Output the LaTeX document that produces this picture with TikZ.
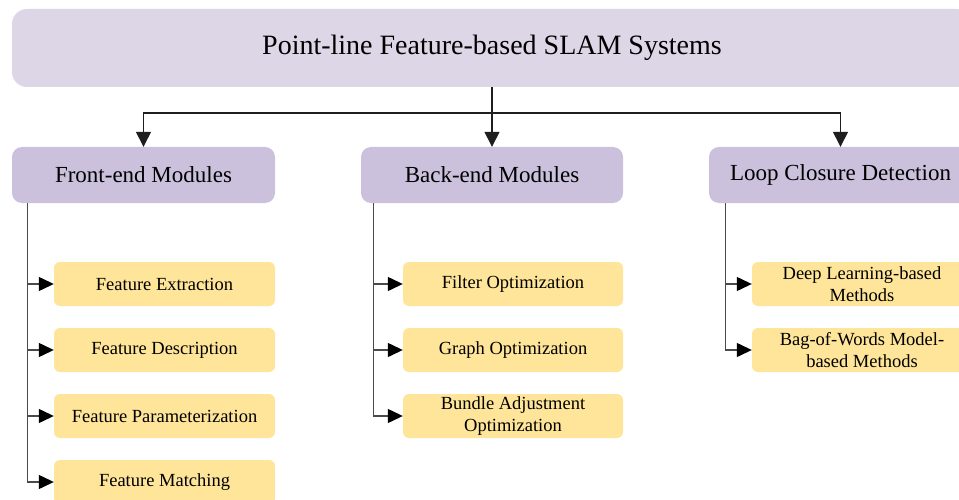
\documentclass[tikz,border=0pt]{standalone}
\usepackage{fontspec}
\setmainfont{Liberation Serif}
\usetikzlibrary{arrows.meta}
\definecolor{titlefill}{HTML}{DDD6E6}
\definecolor{modfill}{HTML}{CBC1DC}
\definecolor{itemfill}{HTML}{FEE599}
\definecolor{linecol}{HTML}{1E1E1E}
\definecolor{branchcol}{HTML}{4A4A4A}
\tikzset{
  titlebox/.style={fill=titlefill, rounded corners=15pt, minimum width=960pt, minimum height=78pt, inner sep=0pt, font=\fontsize{28}{32}\selectfont},
  modbox/.style={fill=modfill, rounded corners=10pt, minimum height=56pt, inner sep=0pt, font=\fontsize{23}{27}\selectfont},
  itembox/.style={fill=itemfill, rounded corners=6pt, minimum height=44pt, inner sep=0pt, align=center, font=\fontsize{18.5}{21.5}\selectfont},
  conn/.style={draw=linecol, line width=1.4pt},
  arr/.style={conn, -{Triangle[length=15pt,width=15pt]}},
  barr/.style={draw=branchcol, line width=1.3pt, -{Triangle[length=15pt,width=14pt,color=black]}}
}
\begin{document}
\begin{tikzpicture}[x=1pt,y=-1pt]
\clip (0,0) rectangle (959,500);
\fill[white] (0,0) rectangle (959,500);
\node[titlebox] (title) at (492,48) {\raisebox{-2pt}{Point-line Feature-based SLAM Systems}};
\node[modbox, minimum width=263pt] (front) at (143.5,175) {Front-end Modules};
\node[modbox, minimum width=262pt] (back) at (492,175) {Back-end Modules};
\node[modbox, minimum width=263pt] (loop) at (840.5,175) {Loop Closure Detection};
\coordinate (j) at (492,113);
\draw[conn] (title.south) -- (j);
\draw[arr] (j) -| (front.north);
\draw[arr] (j) -- (back.north);
\draw[arr] (j) -| (loop.north);
% front-end items
\node[itembox, minimum width=221pt] (f1) at (164.5,284) {Feature Extraction};
\node[itembox, minimum width=221pt] (f2) at (164.5,350) {Feature Description};
\node[itembox, minimum width=221pt] (f3) at (164.5,416) {Feature Parameterization};
\node[itembox, minimum width=221pt] (f4) at (164.5,482) {Feature Matching};
% back-end items
\node[itembox, minimum width=220pt] (b1) at (513,284) {Filter Optimization};
\node[itembox, minimum width=220pt] (b2) at (513,350) {Graph Optimization};
\node[itembox, minimum width=220pt] (b3) at (513,416) {Bundle Adjustment\\Optimization};
% loop items
\node[itembox, minimum width=220pt] (l1) at (862,284) {Deep Learning-based\\Methods};
\node[itembox, minimum width=220pt] (l2) at (862,350) {Bag-of-Words Model-\\based Methods};
\foreach \n in {f1,f2,f3,f4}{\draw[barr] ([xshift=16pt]front.south west) |- (\n.west);}
\foreach \n in {b1,b2,b3}{\draw[barr] ([xshift=13pt]back.south west) |- (\n.west);}
\foreach \n in {l1,l2}{\draw[barr] ([xshift=17pt]loop.south west) |- (\n.west);}
\end{tikzpicture}
\end{document}
